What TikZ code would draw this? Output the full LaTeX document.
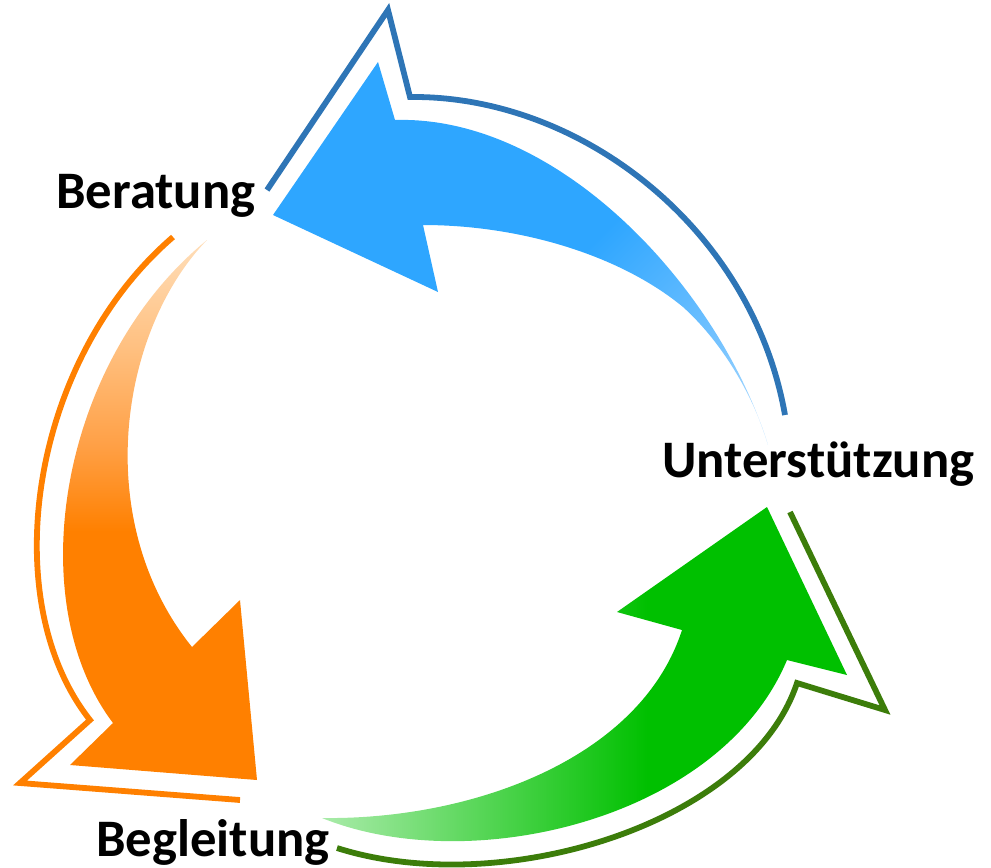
\documentclass[tikz,border=0pt]{standalone}
\usepackage{fontspec}
\setmainfont{Carlito}

\definecolor{bluefill}{RGB}{46,166,255}
\definecolor{bluemid}{RGB}{120,196,255}
\definecolor{bluelight}{RGB}{192,227,255}
\definecolor{blueline}{RGB}{46,117,182}
\definecolor{orangefill}{RGB}{255,128,0}
\definecolor{orangemid}{RGB}{255,160,70}
\definecolor{orangesoft}{RGB}{255,192,128}
\definecolor{orangelight}{RGB}{255,222,185}
\definecolor{greenfill}{RGB}{0,192,0}
\definecolor{greenlight}{RGB}{170,235,170}
\definecolor{greenline}{RGB}{60,125,10}

\pgfdeclarehorizontalshading{bluefade}{100bp}{color(0bp)=(bluefill); color(55bp)=(bluefill); color(74bp)=(bluemid); color(86bp)=(bluelight); color(100bp)=(bluelight)}
\pgfdeclareverticalshading{orangefade}{100bp}{color(0bp)=(orangefill); color(48bp)=(orangefill); color(56bp)=(orangemid); color(65bp)=(orangesoft); color(75bp)=(orangelight); color(100bp)=(orangelight)}
\pgfdeclarehorizontalshading{greenfade}{100bp}{color(0bp)=(greenlight); color(25bp)=(greenlight); color(56bp)=(greenfill); color(100bp)=(greenfill)}

\begin{document}
\begin{tikzpicture}[x=0.02cm, y=-0.02cm,
  outline/.style={line width=3.3pt, miter limit=10},
  cyclelabel/.style={font=\bfseries\fontsize{30}{35}\selectfont, inner sep=0pt, anchor=base west}]
	\useasboundingbox (0,0) rectangle (991,867);

	% blue arrow, Unterstuetzung -> Beratung
	\shade[shading=bluefade, shading angle=-45]
		(768,445) .. controls (720,290) and (560,115) .. (395,120)
		-- (378,62) -- (273,215) -- (438,292) -- (423,225)
		.. controls (520,225) and (620,255) .. (683,307)
		.. controls (725,345) and (755,400) .. (768,445) -- cycle;
	\draw[outline, blueline] (267,190) -- (388,10) -- (410,97)
		.. controls (580,95) and (752,228) .. (785,415);

	% orange arrow, Beratung -> Begleitung
	\shade[shading=orangefade]
		(207,240) .. controls (60,360) and (20,600) .. (113,723)
		-- (70,765) -- (257,780) -- (240,600) -- (192,647)
		.. controls (90,520) and (120,330) .. (207,240) -- cycle;
	\draw[outline, orangefill] (173,237) .. controls (30,360) and (-5,600) .. (90,720)
		-- (20,783) -- (240,800);

	% green arrow, Begleitung -> Unterstuetzung
	\shade[shading=greenfade]
		(322,818) .. controls (470,820) and (640,760) .. (682,630)
		-- (617,612) -- (767,507) -- (847,675) -- (787,660)
		.. controls (720,820) and (470,878) .. (322,818) -- cycle;
	\draw[outline, greenline] (790,512) -- (885,710) -- (797,683)
		.. controls (750,825) and (500,900) .. (337,848);

	\node[cyclelabel] (beratung) at (56,208) {Beratung};
	\node[cyclelabel] (unterstuetzung) at (662,477) {Unterstützung};
	\node[cyclelabel] (begleitung) at (96,856) {Begleitung};
\end{tikzpicture}
\end{document}
